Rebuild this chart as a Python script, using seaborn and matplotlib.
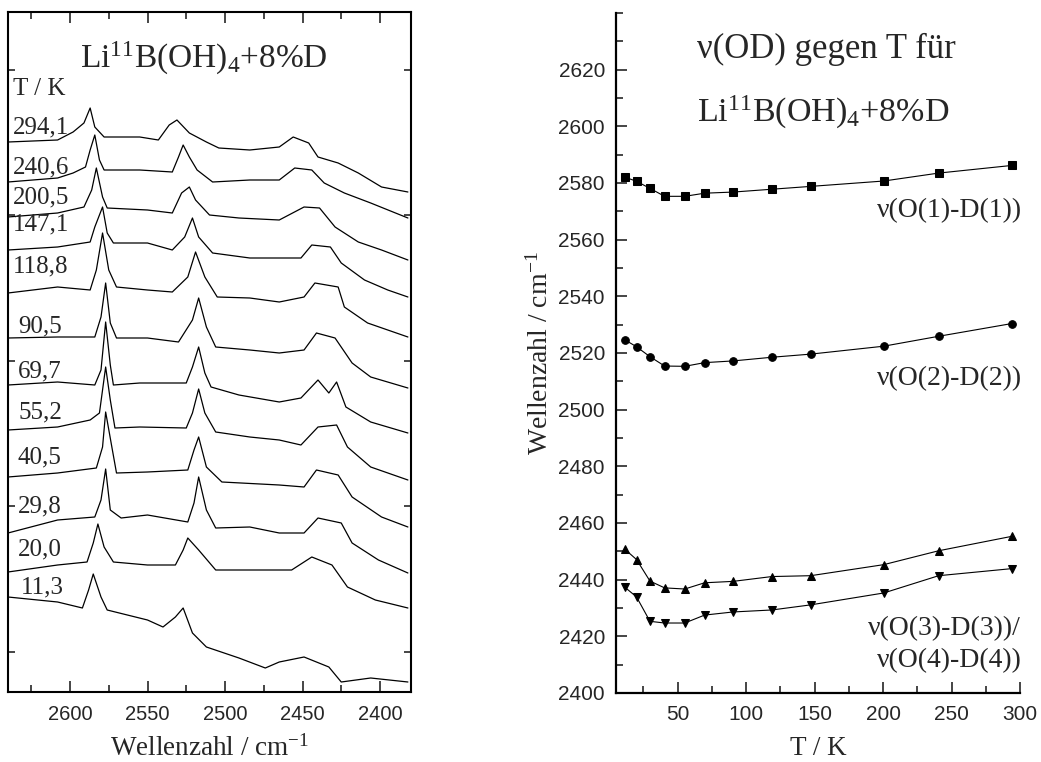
import matplotlib
matplotlib.use("Agg")
import matplotlib.pyplot as plt
from matplotlib.ticker import MultipleLocator, NullFormatter
import numpy as np
import pandas as pd
import seaborn as sns

# ---------------- data: right panel (peak positions vs temperature) ----------------
T_K = [11.3, 20.0, 29.8, 40.5, 55.2, 69.7, 90.5, 118.8, 147.1, 200.5, 240.6, 294.1]
nu_OD1 = [2582.1, 2580.6, 2578.1, 2575.3, 2575.3, 2576.4, 2576.8, 2577.8, 2578.8, 2580.7, 2583.5, 2586.2]
nu_OD2 = [2524.7, 2522.2, 2518.7, 2515.4, 2515.3, 2516.6, 2517.2, 2518.5, 2519.6, 2522.4, 2525.9, 2530.4]
nu_OD3 = [2450.8, 2447.1, 2439.5, 2437.1, 2436.7, 2438.9, 2439.4, 2441.1, 2441.4, 2445.3, 2450.2, 2455.3]
nu_OD4 = [2437.4, 2433.9, 2425.3, 2424.7, 2424.7, 2427.5, 2428.6, 2429.3, 2431.1, 2435.3, 2441.4, 2443.9]

# ---------------- data: left panel (stacked spectra, offset intensity in a.u.) ----------------
spec_labels = ["294,1", "240,6", "200,5", "147,1", "118,8", "90,5", "69,7", "55,2", "40,5", "29,8", "20,0", "11,3"]

wn_2941 = [2640, 2608, 2598, 2591, 2587, 2584, 2578, 2555, 2543, 2536, 2531, 2523, 2512, 2504, 2484, 2465, 2456, 2446, 2440, 2427, 2414, 2399, 2382]
I_2941 = [550, 552, 560, 569, 584, 565, 555, 555, 552, 567, 572, 559, 550, 544, 542, 545, 555, 549, 535, 529, 519, 505, 500]

wn_2406 = [2640, 2608, 2598, 2590, 2587, 2584, 2581, 2578, 2555, 2534, 2530, 2527, 2523, 2518, 2508, 2484, 2465, 2455, 2444, 2436, 2423, 2406, 2382]
I_2406 = [510, 514, 519, 525, 542, 557, 532, 522, 522, 520, 535, 547, 535, 522, 510, 512, 512, 524, 522, 509, 499, 489, 474]

wn_2005 = [2640, 2608, 2591, 2586, 2583, 2579, 2576, 2550, 2534, 2528, 2523, 2519, 2510, 2491, 2465, 2449, 2439, 2429, 2414, 2399, 2382]
I_2005 = [475, 479, 485, 502, 524, 495, 484, 482, 479, 499, 505, 492, 477, 474, 472, 485, 484, 465, 450, 442, 432]

wn_1471 = [2640, 2608, 2587, 2584, 2579, 2576, 2572, 2550, 2534, 2526, 2521, 2517, 2508, 2484, 2465, 2451, 2444, 2432, 2425, 2410, 2395, 2382]
I_1471 = [442, 445, 450, 465, 485, 459, 449, 449, 442, 455, 474, 455, 439, 434, 434, 434, 447, 445, 429, 412, 402, 395]

wn_1188 = [2640, 2608, 2587, 2583, 2579, 2575, 2570, 2550, 2534, 2524, 2519, 2513, 2505, 2484, 2465, 2449, 2442, 2427, 2423, 2408, 2382]
I_1188 = [399, 405, 402, 422, 459, 422, 405, 402, 400, 415, 440, 415, 395, 394, 390, 395, 409, 405, 385, 369, 355]

wn_905 = [2640, 2608, 2584, 2580, 2577, 2574, 2570, 2550, 2530, 2521, 2517, 2512, 2506, 2484, 2465, 2449, 2441, 2429, 2418, 2406, 2382]
I_905 = [354, 355, 355, 375, 409, 369, 354, 354, 350, 372, 394, 365, 345, 342, 339, 342, 359, 354, 329, 315, 304]

wn_697 = [2640, 2608, 2584, 2580, 2577, 2574, 2572, 2555, 2525, 2521, 2517, 2513, 2509, 2491, 2465, 2451, 2440, 2433, 2428, 2422, 2406, 2382]
I_697 = [307, 310, 307, 322, 370, 327, 307, 309, 309, 325, 345, 319, 305, 297, 290, 294, 312, 299, 310, 285, 270, 259]

wn_552 = [2640, 2608, 2587, 2581, 2579, 2577, 2574, 2571, 2555, 2525, 2521, 2517, 2513, 2506, 2484, 2465, 2451, 2440, 2428, 2421, 2406, 2382]
I_552 = [262, 265, 272, 279, 302, 325, 292, 264, 265, 264, 279, 303, 279, 260, 255, 252, 247, 265, 267, 245, 225, 212]

wn_405 = [2640, 2608, 2583, 2579, 2577, 2573, 2570, 2550, 2524, 2520, 2517, 2512, 2502, 2465, 2449, 2441, 2427, 2418, 2399, 2382]
I_405 = [215, 219, 224, 245, 280, 245, 219, 220, 222, 242, 255, 225, 210, 207, 205, 222, 217, 195, 175, 165]

wn_298 = [2640, 2608, 2584, 2580, 2577, 2574, 2567, 2550, 2524, 2520, 2517, 2512, 2506, 2484, 2465, 2449, 2440, 2425, 2418, 2401, 2382]
I_298 = [159, 172, 175, 192, 223, 182, 174, 177, 170, 189, 215, 182, 164, 165, 159, 159, 174, 169, 149, 132, 119]

wn_200 = [2640, 2608, 2589, 2585, 2582, 2578, 2572, 2550, 2532, 2527, 2524, 2517, 2506, 2484, 2465, 2457, 2444, 2431, 2421, 2403, 2382]
I_200 = [120, 127, 130, 149, 168, 145, 130, 127, 127, 142, 154, 142, 122, 122, 122, 122, 135, 127, 105, 92, 84]

wn_113 = [2640, 2608, 2592, 2588, 2585, 2580, 2576, 2550, 2540, 2532, 2527, 2521, 2512, 2491, 2474, 2465, 2449, 2433, 2425, 2406, 2382]
I_113 = [95, 90, 84, 102, 118, 95, 82, 72, 65, 75, 84, 59, 45, 34, 24, 30, 35, 25, 10, 14, 10]

spectra = [(wn_2941, I_2941), (wn_2406, I_2406), (wn_2005, I_2005), (wn_1471, I_1471),
           (wn_1188, I_1188), (wn_905, I_905), (wn_697, I_697), (wn_552, I_552),
           (wn_405, I_405), (wn_298, I_298), (wn_200, I_200), (wn_113, I_113)]

spec_df = pd.concat(
    [pd.DataFrame({"wn": w, "I": i, "T": lab}) for (w, i), lab in zip(spectra, spec_labels)],
    ignore_index=True,
)

# ---------------- styling ----------------
sns.set_style("ticks")
SERIF = "Liberation Serif"
SANS = "Liberation Sans"
plt.rcParams.update({
    "font.family": [SERIF, "DejaVu Serif"],
    "mathtext.fontset": "custom",
    "mathtext.rm": SERIF,
    "mathtext.it": SERIF + ":italic",
    "mathtext.bf": SERIF + ":bold",
    "axes.linewidth": 1.5,
    "axes.edgecolor": "black",
})

W, H = 1041, 762
fig = plt.figure(figsize=(W / 100, H / 100), dpi=100)
fig.patch.set_facecolor("white")


def fx(x):
    return x / W


def fy(y):
    return 1 - y / H


ax1 = fig.add_axes([fx(8), fy(692), 403 / W, 680 / H])
ax2 = fig.add_axes([fx(616), fy(693), 404 / W, 680 / H])

# ---------------- left panel ----------------
sns.lineplot(data=spec_df, x="wn", y="I", units="T", estimator=None, sort=False,
             color="black", lw=0.9, ax=ax1, legend=False)
ax1.set_xlim(2640, 2380)
ax1.set_ylim(0, 680)
ax1.xaxis.set_major_locator(MultipleLocator(50))
ax1.xaxis.set_minor_locator(MultipleLocator(25))
ax1.set_yticks([40, 186, 331, 477, 622])
ax1.yaxis.set_major_formatter(NullFormatter())
ax1.tick_params(axis="both", which="both", direction="in", top=True, right=True, width=1.2)
ax1.tick_params(axis="x", which="major", length=8, labelsize=14.5, pad=9)
ax1.tick_params(axis="x", which="minor", length=5)
ax1.tick_params(axis="y", which="major", length=5)
for lab in ax1.get_xticklabels():
    lab.set_fontfamily(SANS)
for s in ax1.spines.values():
    s.set_linewidth(1.5)
ax1.set_xlabel(r"Wellenzahl / cm$^{\mathregular{-1}}$", fontsize=19.5, labelpad=8)
ax1.set_ylabel("")

fig.text(fx(80), fy(68), r"Li$^{\mathregular{11}}$B(OH)$_{\mathregular{4}}$+8%D",
         fontsize=24, va="baseline", ha="left")
fig.text(fx(13), fy(95), "T / K", fontsize=18, va="baseline", ha="left")

label_pos = [(13, 133), (13, 173), (13, 203), (13, 230), (13, 272), (18, 332),
             (18, 377), (18, 418), (17, 463), (18, 512), (18, 555), (21, 593)]
for lab, (px, py) in zip(spec_labels, label_pos):
    fig.text(fx(px), fy(py), lab, fontsize=18, va="baseline", ha="left")

# ---------------- right panel ----------------
series = [(nu_OD1, "s"), (nu_OD2, "o"), (nu_OD3, "^"), (nu_OD4, "v")]
for vals, mk in series:
    sns.lineplot(x=T_K, y=vals, ax=ax2, color="black", lw=0.8, marker=mk,
                 markersize=5.5, markeredgecolor="black", markerfacecolor="black",
                 legend=False)
ax2.set_xlim(5, 300)
ax2.set_ylim(2400, 2640)
ax2.set_xticks([50, 100, 150, 200, 250, 300])
ax2.xaxis.set_minor_locator(MultipleLocator(25))
ax2.set_yticks(np.arange(2400, 2621, 20))
ax2.yaxis.set_minor_locator(MultipleLocator(10))
ax2.spines["top"].set_visible(False)
ax2.spines["right"].set_visible(False)
for s in ("left", "bottom"):
    ax2.spines[s].set_linewidth(1.6)
ax2.tick_params(axis="both", which="both", direction="in", width=1.2)
ax2.tick_params(axis="both", which="major", length=8, labelsize=15)
ax2.tick_params(axis="both", which="minor", length=5)
ax2.tick_params(axis="x", which="major", pad=9)
ax2.tick_params(axis="y", which="major", pad=8)
for lab in ax2.get_xticklabels() + ax2.get_yticklabels():
    lab.set_fontfamily(SANS)
ax2.set_xlabel("T / K", fontsize=19.5, labelpad=8)
ax2.set_ylabel(r"Wellenzahl / cm$^{\mathregular{-1}}$", fontsize=20, labelpad=3)

fig.text(fx(697), fy(58), "ν(OD) gegen T für", fontsize=25, va="baseline", ha="left")
fig.text(fx(697), fy(122), r"Li$^{\mathregular{11}}$B(OH)$_{\mathregular{4}}$+8%D",
         fontsize=24.5, va="baseline", ha="left")
fig.text(fx(1022), fy(217), "ν(O(1)-D(1))", fontsize=20, va="baseline", ha="right")
fig.text(fx(1022), fy(385), "ν(O(2)-D(2))", fontsize=20, va="baseline", ha="right")
fig.text(fx(1021), fy(635), "ν(O(3)-D(3))/", fontsize=20, va="baseline", ha="right")
fig.text(fx(1022), fy(667), "ν(O(4)-D(4))", fontsize=20, va="baseline", ha="right")

fig.savefig("out.png", dpi=100, facecolor="white")
